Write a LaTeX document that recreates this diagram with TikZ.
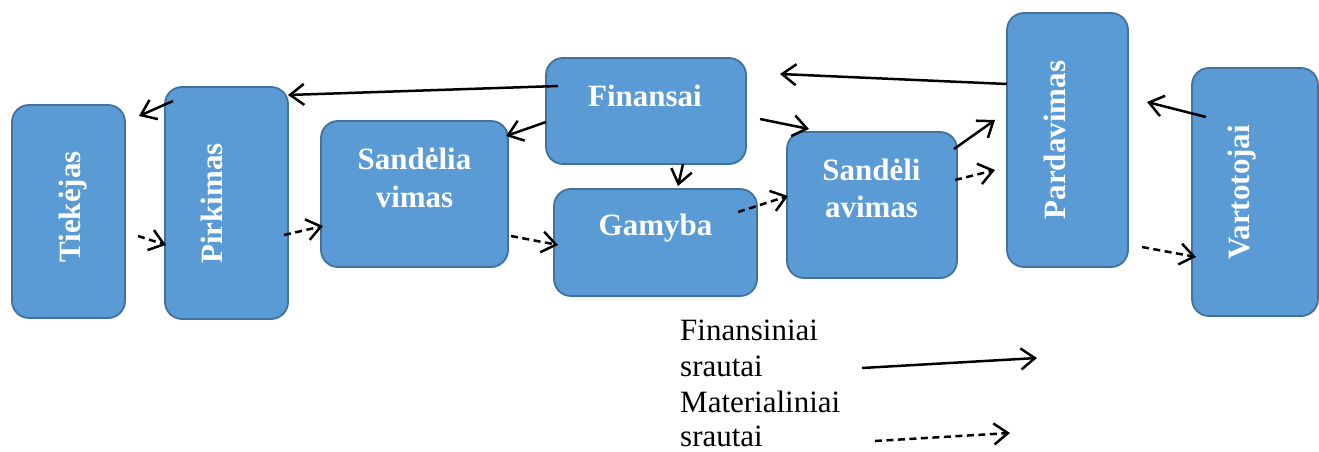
\documentclass[tikz,border=0pt]{standalone}
\usepackage{fontspec}
\setmainfont{Liberation Serif}
\usetikzlibrary{arrows.meta}
\definecolor{boxfill}{HTML}{5B9BD5}
\definecolor{boxline}{HTML}{41719C}
\begin{document}
\begin{tikzpicture}[x=1pt,y=-1pt,
  box/.style={draw=boxline, fill=boxfill, line width=1.8pt, rounded corners=17pt,
    inner sep=0pt, outer sep=0pt},
  lbl/.style={text=white, font=\fontsize{31}{37}\selectfont\bfseries, align=center,
    inner sep=0pt, anchor=base},
  vlbl/.style={lbl, rotate=90},
  finflow/.style={-{Straight Barb[length=14pt,width=21pt]}, line width=2.5pt},
  matflow/.style={finflow, dash pattern=on 7pt off 4.5pt},
  legend/.style={font=\fontsize{31}{36}\selectfont, inner sep=0pt, anchor=base west}
]
\useasboundingbox (0,0) rectangle (1319,452);

% process boxes
\node[box, minimum width=113pt, minimum height=213pt] (tiek) at (68.5,211.5) {};
\node[box, minimum width=123pt, minimum height=232pt] (pirk) at (226.5,203) {};
\node[box, minimum width=187pt, minimum height=146pt] (sandA) at (414.5,194) {};
\node[box, minimum width=200pt, minimum height=106pt] (fin) at (646,111) {};
\node[box, minimum width=203pt, minimum height=107pt] (gam) at (655.5,242.5) {};
\node[box, minimum width=170pt, minimum height=146pt] (sandB) at (872,205) {};
\node[box, minimum width=121pt, minimum height=254pt] (pard) at (1067.5,140) {};
\node[box, minimum width=126pt, minimum height=248pt] (vart) at (1255,192) {};

% box captions
\node[vlbl] (tiekT) at (80,207) {Tiekėjas};
\node[vlbl] (pirkT) at (222,203.5) {Pirkimas};
\node[lbl] (sandAT1) at (414.5,169) {Sandėlia};
\node[lbl] (sandAT2) at (414.5,207) {vimas};
\node[lbl] (finT) at (645,106) {Finansai};
\node[lbl] (gamT) at (655.5,235) {Gamyba};
\node[lbl] (sandBT1) at (871.5,180) {Sandėli};
\node[lbl] (sandBT2) at (871.5,217) {avimas};
\node[vlbl] (pardT) at (1065,140) {Pardavimas};
\node[vlbl] (vartT) at (1249,192.5) {Vartotojai};

% end points of the financial flows
\coordinate (f1a) at (558,86);   \coordinate (f1b) at (288,95);
\coordinate (f2a) at (173,101);  \coordinate (f2b) at (139,116);
\coordinate (f3a) at (546,122);  \coordinate (f3b) at (506,136);
\coordinate (f4a) at (683,164);  \coordinate (f4b) at (678,186);
\coordinate (f5a) at (760,119);  \coordinate (f5b) at (809,129);
\coordinate (f6a) at (954,149);  \coordinate (f6b) at (995,120);
\coordinate (f7a) at (1007,84);  \coordinate (f7b) at (780,74);
\coordinate (f8a) at (1206,117); \coordinate (f8b) at (1147,102);

% end points of the material flows
\coordinate (m1a) at (138,236);  \coordinate (m1b) at (166,245);
\coordinate (m2a) at (284,235);  \coordinate (m2b) at (323,226);
\coordinate (m3a) at (511,236);  \coordinate (m3b) at (558,245);
\coordinate (m4a) at (738,212);  \coordinate (m4b) at (788,196);
\coordinate (m5a) at (955,180);  \coordinate (m5b) at (995,170);
\coordinate (m6a) at (1142,247); \coordinate (m6b) at (1196,257);

\foreach \i in {1,...,8} \draw[finflow] (f\i a) -- (f\i b);
\foreach \i in {1,...,6} \draw[matflow] (m\i a) -- (m\i b);

% legend
\node[legend] (legF1) at (680,340) {Finansiniai};
\node[legend] (legF2) at (680,376) {srautai};
\node[legend] (legM1) at (680,412) {Materialiniai};
\node[legend] (legM2) at (680,446) {srautai};
\coordinate (lfa) at (862,368);  \coordinate (lfb) at (1037,358);
\coordinate (lma) at (875,441);  \coordinate (lmb) at (1010,433);
\draw[finflow] (lfa) -- (lfb);
\draw[matflow] (lma) -- (lmb);
\end{tikzpicture}
\end{document}
